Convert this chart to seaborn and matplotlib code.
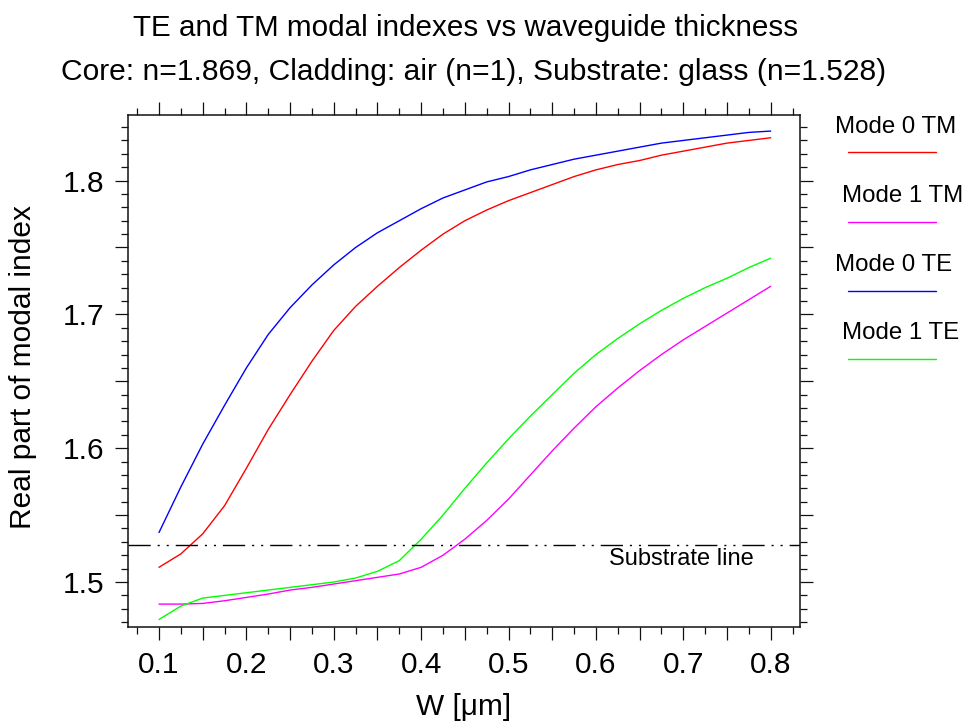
import matplotlib
matplotlib.use("Agg")
import matplotlib.pyplot as plt
from matplotlib.lines import Line2D
from matplotlib.ticker import MultipleLocator, FuncFormatter
import seaborn as sns
import pandas as pd

# waveguide thickness W [um]
w = [0.100, 0.125, 0.150, 0.175, 0.200, 0.225, 0.250, 0.275, 0.300, 0.325,
     0.350, 0.375, 0.400, 0.425, 0.450, 0.475, 0.500, 0.525, 0.550, 0.575,
     0.600, 0.625, 0.650, 0.675, 0.700, 0.725, 0.750, 0.775, 0.800]

mode0_tm = [1.511, 1.521, 1.536, 1.557, 1.585, 1.614, 1.640, 1.665, 1.688, 1.706,
            1.721, 1.735, 1.748, 1.760, 1.770, 1.778, 1.785, 1.791, 1.797, 1.803,
            1.808, 1.812, 1.815, 1.819, 1.822, 1.825, 1.828, 1.830, 1.832]
mode1_tm = [1.4835, 1.4835, 1.484, 1.486, 1.4885, 1.491, 1.494, 1.496, 1.4985, 1.501,
            1.5035, 1.506, 1.511, 1.520, 1.532, 1.546, 1.562, 1.580, 1.598, 1.615,
            1.631, 1.645, 1.658, 1.670, 1.681, 1.691, 1.701, 1.711, 1.721]
mode0_te = [1.537, 1.571, 1.603, 1.632, 1.660, 1.685, 1.705, 1.722, 1.737, 1.750,
            1.761, 1.770, 1.779, 1.787, 1.793, 1.799, 1.803, 1.808, 1.812, 1.816,
            1.819, 1.822, 1.825, 1.828, 1.830, 1.832, 1.834, 1.836, 1.837]
mode1_te = [1.472, 1.482, 1.488, 1.490, 1.492, 1.494, 1.496, 1.498, 1.500, 1.503,
            1.508, 1.516, 1.532, 1.550, 1.570, 1.589, 1.607, 1.624, 1.640, 1.656,
            1.670, 1.682, 1.693, 1.703, 1.712, 1.720, 1.727, 1.735, 1.742]

series_names = ["Mode 0 TM", "Mode 1 TM", "Mode 0 TE", "Mode 1 TE"]
series_colors = ["#ff0000", "#ff00ff", "#0000ff", "#00ff00"]
substrate_n = 1.528

sns.set_style("ticks")
plt.rcParams["font.family"] = ["Liberation Sans", "DejaVu Sans"]
plt.rcParams["text.color"] = "black"
plt.rcParams["axes.labelcolor"] = "black"
plt.rcParams["xtick.color"] = "black"
plt.rcParams["ytick.color"] = "black"

fig = plt.figure(figsize=(9.65, 7.22), dpi=100)
ax = fig.add_axes([0.1326, 0.1316, 0.6964, 0.7091])

for name, vals, col in zip(series_names, [mode0_tm, mode1_tm, mode0_te, mode1_te], series_colors):
    df = pd.DataFrame({"W": w, "n": vals})
    sns.lineplot(data=df, x="W", y="n", color=col, lw=1.0, ax=ax, legend=False)

ax.axhline(substrate_n, color="black", lw=1.0, dashes=(16, 5, 1.5, 5, 1.5, 5))
ax.text(0.615, 1.517, "Substrate line", fontsize=17, va="center", ha="left")

ax.set_xlim(0.0645, 0.8335)
ax.set_ylim(1.4664, 1.849)

def every_tenth(v, pos):
    return f"{v:.1f}" if abs(v * 10 - round(v * 10)) < 1e-6 else ""

ax.xaxis.set_major_locator(MultipleLocator(0.05))
ax.xaxis.set_minor_locator(MultipleLocator(0.025))
ax.yaxis.set_major_locator(MultipleLocator(0.05))
ax.yaxis.set_minor_locator(MultipleLocator(0.01))
ax.xaxis.set_major_formatter(FuncFormatter(every_tenth))
ax.yaxis.set_major_formatter(FuncFormatter(every_tenth))
ax.tick_params(which="both", direction="out", top=True, right=True,
               labeltop=False, labelright=False, color="#111111", width=0.9)
ax.tick_params(which="major", length=9.5, labelsize=21.5, pad=7.5)
ax.tick_params(which="minor", length=5)
for sp in ax.spines.values():
    sp.set_linewidth(1.1)
    sp.set_color("#111111")

ax.set_xlabel("W [μm]", fontsize=21.5)
ax.set_ylabel("Real part of modal index", fontsize=21.5)
ax.xaxis.set_label_coords(0.5, -0.128)
ax.yaxis.set_label_coords(-0.1354, 0.508)

fig.text(466 / 965, 1 - 28 / 722, "TE and TM modal indexes vs waveguide thickness",
         fontsize=21.3, ha="center", va="center")
fig.text(474 / 965, 1 - 72 / 722,
         "Core: n=1.869, Cladding: air (n=1), Substrate: glass (n=1.528)",
         fontsize=21.6, ha="center", va="center")

# legend: label above a short line sample
leg_text_x = [835, 842, 835, 842]
leg_text_y = [127, 196, 265, 333]
leg_line_y = [152, 221.7, 290.7, 359.3]
for name, col, tx, ty, ly in zip(series_names, series_colors, leg_text_x, leg_text_y, leg_line_y):
    fig.text(tx / 965, 1 - ty / 722, name, fontsize=17.3, ha="left", va="center")
    fig.add_artist(Line2D([848 / 965, 936 / 965], [1 - ly / 722, 1 - ly / 722],
                          transform=fig.transFigure, color=col, lw=1.0))

fig.savefig("out.png", dpi=100)
